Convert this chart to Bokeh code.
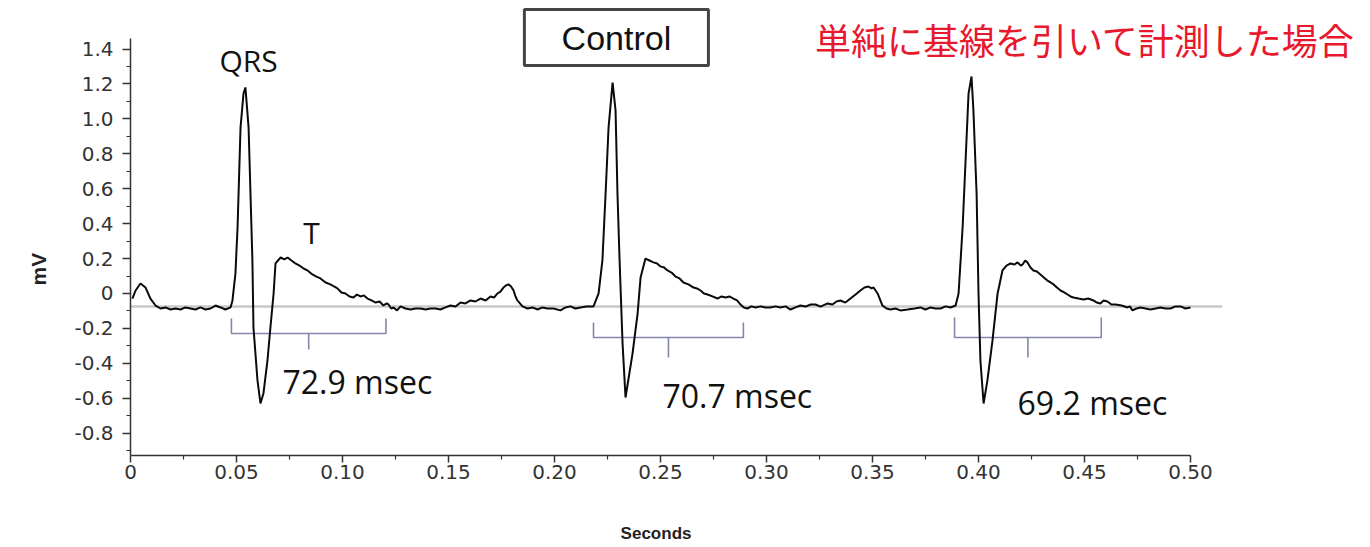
from bokeh.plotting import figure
from bokeh.models import Range1d, FixedTicker, Label, PrintfTickFormatter, Title
from bokeh.embed import file_html
from bokeh.resources import INLINE

# ---------------- data ----------------
time_s = [
    0.0009, 0.0024, 0.0047, 0.0071, 0.0094, 0.0118, 0.0142, 0.0165, 0.0189, 0.0212, 0.0236, 0.0259,
    0.0283, 0.0307, 0.0330, 0.0354, 0.0377, 0.0401, 0.0425, 0.0448, 0.0472,
    0.0481, 0.0495, 0.0505, 0.0519, 0.0533, 0.0542, 0.0557, 0.0575, 0.0580, 0.0599, 0.0613, 0.0627,
    0.0646, 0.0660, 0.0675, 0.0684, 0.0708,
    0.0726, 0.0741, 0.0759, 0.0778, 0.0797, 0.0816, 0.0835, 0.0858, 0.0877, 0.0896, 0.0920, 0.0943,
    0.0960, 0.0976, 0.0995, 0.1014, 0.1033, 0.1052, 0.1068, 0.1085, 0.1101, 0.1118, 0.1137, 0.1156,
    0.1175, 0.1193, 0.1208, 0.1217, 0.1230, 0.1241, 0.1257, 0.1274, 0.1297, 0.1321, 0.1344, 0.1368,
    0.1392, 0.1415, 0.1439, 0.1462, 0.1486, 0.1509, 0.1533, 0.1557, 0.1580, 0.1604, 0.1627, 0.1651,
    0.1675, 0.1698, 0.1715, 0.1731, 0.1745, 0.1759, 0.1771, 0.1783, 0.1795, 0.1807, 0.1816, 0.1825,
    0.1849, 0.1873, 0.1896, 0.1920, 0.1943, 0.1967, 0.1995, 0.2028, 0.2052, 0.2075, 0.2099, 0.2123,
    0.2150, 0.2184,
    0.2208, 0.2226, 0.2241, 0.2255, 0.2274, 0.2288, 0.2297, 0.2307, 0.2321, 0.2335, 0.2344, 0.2368,
    0.2392, 0.2406, 0.2429,
    0.2448, 0.2467, 0.2484, 0.2500, 0.2517, 0.2533, 0.2552, 0.2571, 0.2590, 0.2608, 0.2632, 0.2656,
    0.2672, 0.2689, 0.2705, 0.2722, 0.2745, 0.2769, 0.2788, 0.2807, 0.2825, 0.2844, 0.2861, 0.2877,
    0.2893, 0.2910, 0.2929, 0.2948, 0.2972, 0.2995, 0.3018, 0.3042, 0.3066, 0.3090, 0.3113, 0.3137,
    0.3160, 0.3184, 0.3208, 0.3231, 0.3255, 0.3288, 0.3311, 0.3330, 0.3349, 0.3372, 0.3396, 0.3420,
    0.3443, 0.3462, 0.3481, 0.3495, 0.3505, 0.3524, 0.3547, 0.3566, 0.3585, 0.3608, 0.3632, 0.3665,
    0.3698, 0.3726, 0.3750, 0.3774, 0.3797, 0.3821, 0.3845, 0.3868, 0.3892,
    0.3906, 0.3925, 0.3939, 0.3953, 0.3967, 0.3976, 0.3991, 0.4000, 0.4009, 0.4024, 0.4042, 0.4066,
    0.4090, 0.4113, 0.4132, 0.4151, 0.4170,
    0.4184, 0.4200, 0.4208, 0.4220, 0.4231, 0.4245, 0.4259, 0.4275, 0.4292, 0.4308, 0.4325, 0.4340,
    0.4354, 0.4370, 0.4387, 0.4404, 0.4420, 0.4434, 0.4448, 0.4472, 0.4495, 0.4518, 0.4542, 0.4558,
    0.4575, 0.4590, 0.4608, 0.4627, 0.4646, 0.4675, 0.4703, 0.4715, 0.4726, 0.4745, 0.4764, 0.4788,
    0.4811, 0.4835, 0.4858, 0.4882, 0.4906, 0.4929, 0.4953, 0.4976, 0.5000,
]
voltage_mv = [
    -0.029, 0.017, 0.057, 0.034, -0.029, -0.069, -0.086, -0.080, -0.092, -0.086, -0.092, -0.080,
    -0.086, -0.092, -0.080, -0.092, -0.086, -0.069, -0.080, -0.092, -0.080,
    -0.040, 0.115, 0.378, 0.951, 1.145, 1.180, 0.951, 0.189, -0.195, -0.498, -0.630, -0.573,
    -0.384, -0.195, 0.000, 0.172, 0.206,
    0.195, 0.206, 0.189, 0.172, 0.160, 0.143, 0.132, 0.109, 0.097, 0.086, 0.063, 0.052,
    0.040, 0.029, 0.006, 0.000, -0.017, -0.023, -0.006, -0.017, -0.011, -0.029, -0.040, -0.052,
    -0.046, -0.069, -0.057, -0.063, -0.086, -0.080, -0.097, -0.074, -0.086, -0.092, -0.086, -0.086,
    -0.092, -0.086, -0.086, -0.092, -0.080, -0.069, -0.075, -0.052, -0.057, -0.040, -0.046, -0.029,
    -0.040, -0.017, -0.023, 0.000, 0.011, 0.034, 0.046, 0.052, 0.040, 0.017, -0.017, -0.040,
    -0.074, -0.086, -0.080, -0.092, -0.080, -0.086, -0.086, -0.097, -0.080, -0.074, -0.086, -0.080,
    -0.074, -0.074,
    0.000, 0.189, 0.573, 0.951, 1.208, 1.048, 0.573, 0.189, -0.286, -0.596, -0.527, -0.344,
    -0.115, 0.092, 0.200,
    0.189, 0.178, 0.172, 0.155, 0.149, 0.132, 0.120, 0.097, 0.086, 0.063, 0.052, 0.034,
    0.029, 0.017, 0.000, -0.006, -0.017, -0.029, -0.017, -0.023, -0.017, -0.029, -0.040, -0.063,
    -0.080, -0.086, -0.074, -0.080, -0.074, -0.080, -0.080, -0.074, -0.080, -0.074, -0.092, -0.080,
    -0.069, -0.075, -0.063, -0.063, -0.075, -0.057, -0.063, -0.046, -0.040, -0.052, -0.029, -0.006,
    0.017, 0.034, 0.040, 0.029, 0.034, 0.000, -0.069, -0.086, -0.092, -0.086, -0.097, -0.092,
    -0.086, -0.080, -0.092, -0.080, -0.086, -0.086, -0.074, -0.080, -0.069,
    0.000, 0.378, 0.762, 1.145, 1.243, 1.048, 0.573, 0.000, -0.384, -0.630, -0.498, -0.269,
    0.000, 0.132, 0.160, 0.172, 0.166,
    0.178, 0.160, 0.166, 0.189, 0.178, 0.149, 0.132, 0.126, 0.109, 0.092, 0.074, 0.063,
    0.052, 0.034, 0.017, 0.006, -0.006, -0.017, -0.023, -0.029, -0.034, -0.029, -0.040, -0.052,
    -0.057, -0.040, -0.046, -0.063, -0.063, -0.069, -0.080, -0.074, -0.097, -0.086, -0.080, -0.086,
    -0.092, -0.086, -0.080, -0.086, -0.086, -0.074, -0.074, -0.086, -0.080,
]

x_tick_labels = ["0", "0.05", "0.10", "0.15", "0.20", "0.25", "0.30", "0.35", "0.40", "0.45", "0.50"]
y_tick_labels = ["-0.8", "-0.6", "-0.4", "-0.2", "0", "0.2", "0.4", "0.6", "0.8", "1.0", "1.2", "1.4"]

baseline_mv = -0.074
baseline_end_s = 0.515

qt_start_s = [0.0476, 0.2184, 0.3887]
qt_msec = [72.9, 70.7, 69.2]

title_text = "Control"
note_text = "単純に基線を引いて計測した場合"
x_label = "Seconds"
y_label = "mV"

# ---------------- layout / annotation positions ----------------
bracket_level = [-0.229, -0.252, -0.252]
bracket_cap_top = [-0.143, -0.166, -0.137]
bracket_tick_bottom = [-0.321, -0.367, -0.367]
qt_label_pos = [(0.0717, -0.504), (0.2509, -0.584), (0.4184, -0.624)]

x_ticks = [float(s) for s in x_tick_labels]
y_ticks = [float(s) for s in y_tick_labels]
x_minor = [0.025 + 0.05 * i for i in range(10)]
y_minor = [-0.9 + 0.2 * i for i in range(12)]

p = figure(
    width=1370, height=547, output_backend="svg", toolbar_location=None,
    x_range=Range1d(0, 0.5849), y_range=Range1d(-0.928, 1.678),
    min_border_left=130, min_border_right=0, min_border_top=0, min_border_bottom=92,
)
p.grid.visible = False
p.outline_line_color = None
p.background_fill_color = "white"
p.border_fill_color = "white"

# axes
p.xaxis.bounds = (0, 0.5)
p.yaxis.bounds = (-0.928, 1.46)
p.xaxis.ticker = FixedTicker(ticks=x_ticks, minor_ticks=x_minor)
p.yaxis.ticker = FixedTicker(ticks=y_ticks, minor_ticks=y_minor)
p.xaxis.formatter = PrintfTickFormatter(format="%.2f")
p.yaxis.formatter = PrintfTickFormatter(format="%.1f")
p.xaxis.major_label_overrides = {0: "0"}
p.yaxis.major_label_overrides = {0: "0"}

for ax in (p.xaxis, p.yaxis):
    ax.axis_line_color = "#333333"
    ax.axis_line_width = 1.5
    ax.major_tick_line_color = "#333333"
    ax.minor_tick_line_color = "#333333"
    ax.major_tick_line_width = 1.5
    ax.minor_tick_line_width = 1.2
    ax.major_tick_in = 0
    ax.minor_tick_in = 0
    ax.minor_tick_out = 4
    ax.major_label_text_font = "DejaVu Sans"
    ax.major_label_text_font_size = "20px"
    ax.major_label_text_color = "#333333"

p.xaxis.major_tick_out = 7
p.xaxis.major_label_standoff = 2
p.yaxis.major_tick_out = 8
p.yaxis.major_label_standoff = 9

# x axis title: sits left of the frame centre in the reference, so pad with no-break spaces
p.xaxis.axis_label = x_label + "\u00a0" * 40
p.xaxis.axis_label_standoff = 42
p.xaxis.axis_label_text_font = "Liberation Sans"
p.xaxis.axis_label_text_font_style = "bold"
p.xaxis.axis_label_text_font_size = "17px"
p.xaxis.axis_label_text_color = "#222222"

# y axis title: below the frame's middle in the reference
p.add_layout(Title(text=y_label, align="left", offset=170, standoff=44,
                   text_font="Liberation Sans", text_font_style="bold", text_font_size="21px",
                   text_color="#222222"), "left")

# baseline
p.line([0, baseline_end_s], [baseline_mv, baseline_mv], line_color="#c8c8c8", line_width=2.5)

# QT brackets
bx, by = [], []
for s, d, lv, ct, tb in zip(qt_start_s, qt_msec, bracket_level, bracket_cap_top, bracket_tick_bottom):
    e = s + d / 1000.0
    m = (s + e) / 2
    bx.append([s, s, e, e])
    by.append([ct, lv, lv, ct])
    bx.append([m, m])
    by.append([lv, tb])
p.multi_line(bx, by, line_color="#8486aa", line_width=1.6)

# ECG trace
p.line(time_s, voltage_mv, line_color="#0a0a0a", line_width=2.0)

# text annotations
for (lx, ly), d in zip(qt_label_pos, qt_msec):
    p.add_layout(Label(x=lx, y=ly, text=f"{d} msec", text_font="Open Sans", text_font_size="32px",
                       text_color="#111111", text_align="left", text_baseline="middle"))

p.add_layout(Label(x=0.0557, y=1.334, text="QRS", text_font="Open Sans", text_font_size="30px",
                   text_color="#111111", text_align="center", text_baseline="middle"))
p.add_layout(Label(x=0.0854, y=0.349, text="T", text_font="Open Sans", text_font_size="30px",
                   text_color="#111111", text_align="center", text_baseline="middle"))

# Control box
p.quad(left=[0.1858], right=[0.2726], bottom=[1.306], top=[1.627],
       fill_color="white", line_color="#444444", line_width=3)
p.add_layout(Label(x=0.2292, y=1.466, text=title_text, text_font="Liberation Sans",
                   text_font_size="34px", text_color="#111111", text_align="center",
                   text_baseline="middle"))

p.add_layout(Label(x=0.4502, y=1.458, text=note_text, text_font="Noto Sans CJK JP",
                   text_font_size="36px", text_color="#e8192c", text_align="center",
                   text_baseline="middle"))

open("out.html", "w").write(file_html(p, INLINE))
